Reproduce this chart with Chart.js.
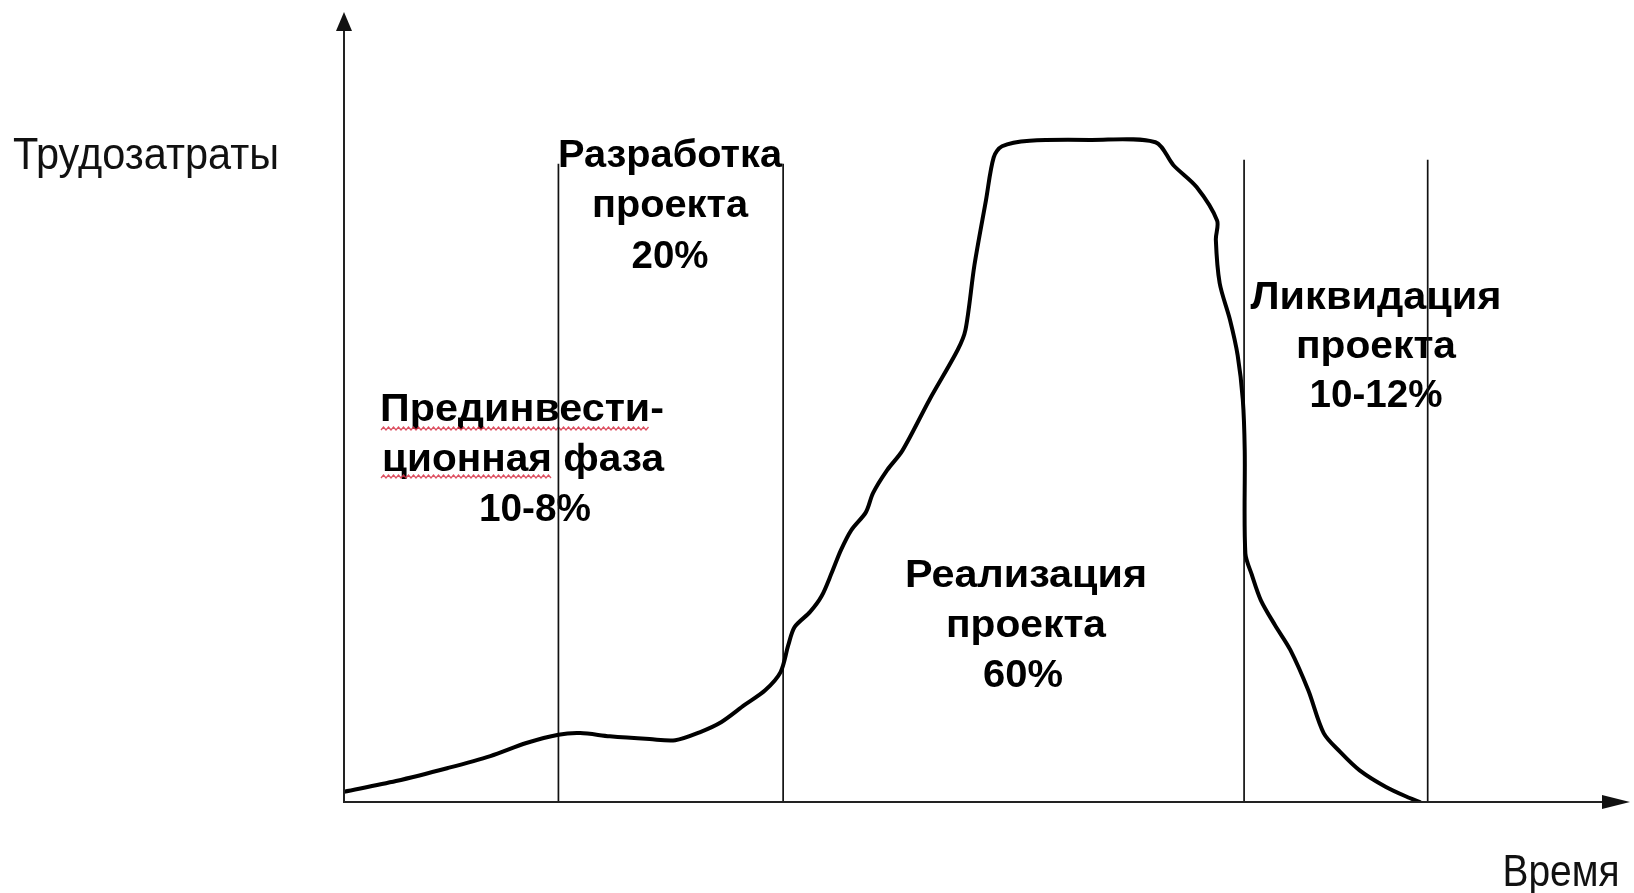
<!DOCTYPE html>
<html>
<head>
<meta charset="utf-8">
<script src="https://cdn.jsdelivr.net/npm/chart.js@4/dist/chart.umd.min.js"></script>
<style>
  html, body { margin: 0; padding: 0; background: #ffffff; }
  #wrap { width: 1634px; height: 893px; position: relative; }
</style>
</head>
<body>
<div id="wrap"><canvas id="c" width="1634" height="893"></canvas></div>
<script>
// ---- Data (time in relative units 0..100, labour effort 0..100) ----
const timeValues = [0, 4.05, 8.1, 11.4, 14.2, 16.7, 18.4, 20.7, 23.8, 25.8, 27.7, 29.4, 31.2, 32.8, 34.0, 34.6, 35.1, 36.3, 37.2, 38.0, 38.7, 39.5, 40.65, 41.2, 42.3, 43.5, 45.6, 47.8, 48.4, 49.1, 50.0, 50.6, 51.25, 53.4, 58.1, 63.2, 64.6, 66.4, 68.0, 67.9, 68.2, 69.0, 69.6, 70.0, 70.15, 70.2, 70.7, 71.4, 72.5, 73.7, 75.1, 76.3, 77.6, 79.1, 81.15, 83.0, 83.8];
const effortValues = [1.3, 2.65, 4.3, 5.8, 7.45, 8.5, 8.7, 8.3, 7.95, 7.8, 8.8, 10.1, 12.25, 14.1, 16.4, 19.8, 22.1, 24.0, 26.0, 29.0, 31.8, 34.3, 36.6, 39.0, 41.9, 44.4, 50.8, 57.1, 59.6, 67.8, 76.0, 81.4, 82.8, 83.5, 83.6, 83.3, 80.4, 77.65, 73.4, 71.0, 65.5, 60.9, 56.4, 50.8, 44.4, 31.4, 28.7, 25.5, 22.35, 19.2, 14.1, 8.7, 6.3, 4.0, 1.9, 0.5, 0];
const phaseBoundaries = [16.7, 34.2, 70.1, 84.4];
const boundaryTops = [80.6, 80.6, 81.1, 81.1];
const phaseNames = [
  ['Прединвести-', 'ционная фаза', '10-8%'],
  ['Разработка', 'проекта', '20%'],
  ['Реализация', 'проекта', '60%'],
  ['Ликвидация', 'проекта', '10-12%']
];
const yAxisTitle = 'Трудозатраты';
const xAxisTitle = 'Время';

// ---- Layout / style (pixels) ----
const phaseLayout = [
  { baselines: [421, 471, 521], centers: [522, 523, 535], widths: [284, 282, 112] },
  { baselines: [167, 217, 268], centers: [670, 670, 670], widths: [224, 156, 77] },
  { baselines: [587, 637, 687], centers: [1026, 1026, 1023], widths: [242, 160, 80] },
  { baselines: [309, 358, 407], centers: [1376, 1376, 1376], widths: [251, 160, 133] }
];
const FONT_REG = '44px "Liberation Sans", Arial, sans-serif';
const FONT_BOLD = 'bold 39px "Liberation Sans", Arial, sans-serif';

function fitText(ctx, text, cx, baseline, width, font, color) {
  ctx.save();
  ctx.font = font;
  ctx.fillStyle = color || '#000';
  ctx.textAlign = 'center';
  ctx.textBaseline = 'alphabetic';
  const w = ctx.measureText(text).width;
  ctx.translate(cx, baseline);
  ctx.scale(width / w, 1);
  ctx.fillText(text, 0, 0);
  ctx.restore();
}

function squiggle(ctx, x0, x1, y) {
  ctx.save();
  ctx.strokeStyle = 'rgba(215,50,70,0.85)';
  ctx.lineWidth = 1.3;
  ctx.beginPath();
  let up = true;
  ctx.moveTo(x0, y);
  for (let x = x0 + 2.5; x <= x1; x += 2.5) {
    ctx.lineTo(x, up ? y - 3 : y);
    up = !up;
  }
  ctx.stroke();
  ctx.restore();
}

const decorPlugin = {
  id: 'decor',
  beforeDatasetsDraw(chart) {
    const ctx = chart.ctx;
    phaseNames.forEach((lines, i) => {
      const L = phaseLayout[i];
      lines.forEach((t, j) => fitText(ctx, t, L.centers[j], L.baselines[j], L.widths[j], FONT_BOLD, '#000'));
    });
    squiggle(ctx, 381, 650, 430);
    squiggle(ctx, 381, 552, 478);
    fitText(ctx, yAxisTitle, 146, 169, 266, FONT_REG, '#111');
    fitText(ctx, xAxisTitle, 1561, 886, 117, FONT_REG, '#111');
  },
  afterDatasetsDraw(chart) {
    const ctx = chart.ctx;
    const xs = chart.scales.x, ys = chart.scales.y;
    const x0 = xs.getPixelForValue(0), y0 = ys.getPixelForValue(0);
    const xEnd = xs.getPixelForValue(100), yEnd = ys.getPixelForValue(100);
    ctx.save();
    ctx.strokeStyle = '#222';
    ctx.fillStyle = '#111';
    ctx.lineWidth = 2;
    ctx.beginPath();
    ctx.moveTo(x0, y0 + 1);
    ctx.lineTo(x0, yEnd + 18);
    ctx.moveTo(x0 - 1, y0);
    ctx.lineTo(xEnd - 22, y0);
    ctx.stroke();
    ctx.beginPath();
    ctx.moveTo(x0, yEnd + 2);
    ctx.lineTo(x0 - 8, yEnd + 21);
    ctx.lineTo(x0 + 8, yEnd + 21);
    ctx.closePath();
    ctx.fill();
    ctx.beginPath();
    ctx.moveTo(xEnd + 2, y0);
    ctx.lineTo(xEnd - 26, y0 - 7);
    ctx.lineTo(xEnd - 26, y0 + 7);
    ctx.closePath();
    ctx.fill();
    ctx.restore();
  }
};

const boundaryDatasets = phaseBoundaries.map((b, i) => ({
  data: [{ x: b, y: -0.5 }, { x: b, y: boundaryTops[i] }],
  showLine: true,
  borderColor: '#111',
  borderWidth: 1.7,
  pointRadius: 0,
  tension: 0,
  order: 2
}));

new Chart(document.getElementById('c'), {
  type: 'scatter',
  data: {
    datasets: [
      {
        data: timeValues.map((t, i) => ({ x: t, y: effortValues[i] })),
        showLine: true,
        borderColor: '#000',
        borderWidth: 4,
        pointRadius: 0,
        tension: 0.3,
        borderJoinStyle: 'round',
        borderCapStyle: 'round',
        order: 1
      },
      ...boundaryDatasets
    ]
  },
  options: {
    responsive: false,
    devicePixelRatio: 1,
    animation: false,
    layout: { padding: { left: 344, right: 6, top: 10, bottom: 91 } },
    scales: {
      x: { type: 'linear', min: 0, max: 100, display: false },
      y: { type: 'linear', min: 0, max: 100, display: false }
    },
    plugins: {
      legend: { display: false },
      tooltip: { enabled: false }
    },
    elements: { line: { capBezierPoints: true } }
  },
  plugins: [decorPlugin]
});
</script>
</body>
</html>
